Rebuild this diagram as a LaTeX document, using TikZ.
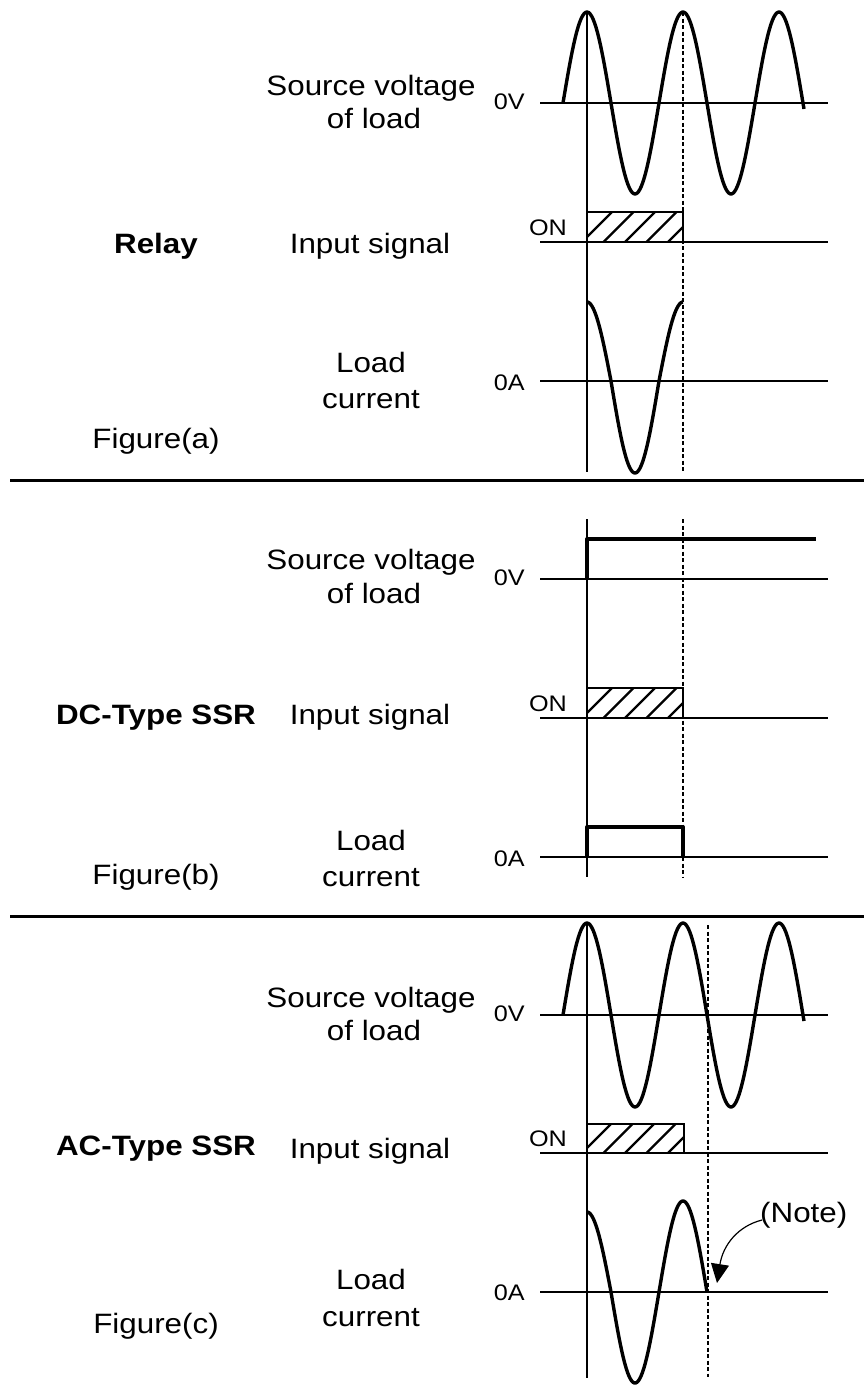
\documentclass[tikz,border=0pt]{standalone}
\usepackage{fontspec}
\setmainfont{Liberation Sans}[FakeStretch=1.12]
\usetikzlibrary{arrows.meta,calc}
\begin{document}
\begin{tikzpicture}[x=1pt,y=-1pt,
  axis/.style={line width=2pt},
  wave/.style={line width=3.4pt, line join=round},
  marker/.style={line width=1.8pt},
  dashmark/.style={line width=1.6pt, dash pattern=on 4pt off 2.5pt},
  sep/.style={line width=3pt},
  boxline/.style={line width=2.8pt},
  hatch/.style={line width=2.2pt},
  lbl/.style={font=\fontsize{28}{33}\selectfont, inner sep=0pt, anchor=base},
  small/.style={font=\fontsize{22.5}{26}\selectfont, inner sep=0pt, anchor=base east},
  ttl/.style={font=\fontsize{28}{33}\selectfont\bfseries, inner sep=0pt, anchor=base},
]
\path[fill=white] (0,0) rectangle (864,1385);
\useasboundingbox (0,0) rectangle (864,1385);

% ---------- Panel (a) ----------
\draw[marker] (587,12) -- (587,472);
\draw[dashmark] (683,12) -- (683,472);
\draw[axis] (540,103) -- (828,103);
\draw[wave] plot[domain=563:804, samples=161] (\x,{103-91*sin(3.75*(\x-563))});
\draw[axis] (540,242) -- (828,242);
\begin{scope}
  \clip (587,212) rectangle (683,242);
  \foreach \k in {0,...,5} \draw[hatch] ({582+21.5*\k},242) -- ++(30,-30);
\end{scope}
\draw[boxline] (587,212) rectangle (683,242);
\draw[axis] (540,381) -- (828,381);
\draw[wave] plot[domain=587:611, samples=25] (\x,{381-79*cos(3.75*(\x-587))})
  -- plot[domain=611:659, samples=49] (\x,{381-92*cos(3.75*(\x-587))})
  -- plot[domain=659:683, samples=25] (\x,{381-79*cos(3.75*(\x-587))});

\node[lbl] (sva) at (371,95) {Source voltage};
\node[lbl] (ola) at (374,128) {of load};
\node[small] (zva) at (525,109) {0V};
\node[ttl] (rel) at (156,253) {Relay};
\node[lbl] (ina) at (370,253) {Input signal};
\node[small] (ona) at (567,235) {ON};
\node[lbl] (lda) at (371,372) {Load};
\node[lbl] (cua) at (371,408) {current};
\node[small] (zaa) at (525,390) {0A};
\node[lbl] (fia) at (156,448) {Figure(a)};

\draw[sep] (10,480) -- (864,480);

% ---------- Panel (b) ----------
\draw[marker] (587,519) -- (587,877);
\draw[dashmark] (683,519) -- (683,877);
\draw[axis] (540,579) -- (828,579);
\draw[wave] (587,579) -- (587,539) -- (816,539);
\draw[axis] (540,718) -- (828,718);
\begin{scope}
  \clip (587,688) rectangle (683,718);
  \foreach \k in {0,...,5} \draw[hatch] ({582+21.5*\k},718) -- ++(30,-30);
\end{scope}
\draw[boxline] (587,688) rectangle (683,718);
\draw[axis] (540,857) -- (828,857);
\draw[wave] (587,857) -- (587,827) -- (683,827) -- (683,857);

\node[lbl] (svb) at (371,569) {Source voltage};
\node[lbl] (olb) at (374,603) {of load};
\node[small] (zvb) at (525,585) {0V};
\node[ttl] (dct) at (156,724) {DC-Type SSR};
\node[lbl] (inb) at (370,724) {Input signal};
\node[small] (onb) at (567,711) {ON};
\node[lbl] (ldb) at (371,850) {Load};
\node[lbl] (cub) at (371,886) {current};
\node[small] (zab) at (525,866) {0A};
\node[lbl] (fib) at (156,884) {Figure(b)};

\draw[sep] (10,916) -- (864,916);

% ---------- Panel (c) ----------
\draw[marker] (587,923) -- (587,1378);
\draw[dashmark] (708,925) -- (708,1377);
\draw[axis] (540,1015) -- (828,1015);
\draw[wave] plot[domain=563:804, samples=161] (\x,{1015-92*sin(3.75*(\x-563))});
\draw[axis] (540,1153) -- (828,1153);
\begin{scope}
  \clip (587,1124) rectangle (684,1153);
  \foreach \k in {0,...,5} \draw[hatch] ({582+21.5*\k},1153) -- ++(30,-30);
\end{scope}
\draw[boxline] (587,1124) rectangle (684,1153);
\draw[axis] (540,1292) -- (828,1292);
\draw[wave] plot[domain=587:611, samples=25] (\x,{1292-80*cos(3.75*(\x-587))})
  -- plot[domain=611:707, samples=97] (\x,{1292-91*cos(3.75*(\x-587))});

\node[lbl] (svc) at (371,1007) {Source voltage};
\node[lbl] (olc) at (374,1040) {of load};
\node[small] (zvc) at (525,1021) {0V};
\node[ttl] (act) at (156,1155) {AC-Type SSR};
\node[lbl] (inc) at (370,1158) {Input signal};
\node[small] (onc) at (567,1146) {ON};
\node[lbl] (ldc) at (371,1289) {Load};
\node[lbl] (cuc) at (371,1326) {current};
\node[small] (zac) at (525,1300) {0A};
\node[lbl] (fic) at (156,1333) {Figure(c)};

\node[font=\fontsize{28}{33}\selectfont, inner sep=0pt, anchor=base west] (note) at (760,1222) {(Note)};
\coordinate (notetip) at (717,1283);
\draw[line width=1.2pt, -{Triangle[length=19pt,width=18pt]}]
  ($(note.base west)+(2,-2)$) .. controls (738,1226) and (723,1245) .. (notetip);
\end{tikzpicture}
\end{document}
